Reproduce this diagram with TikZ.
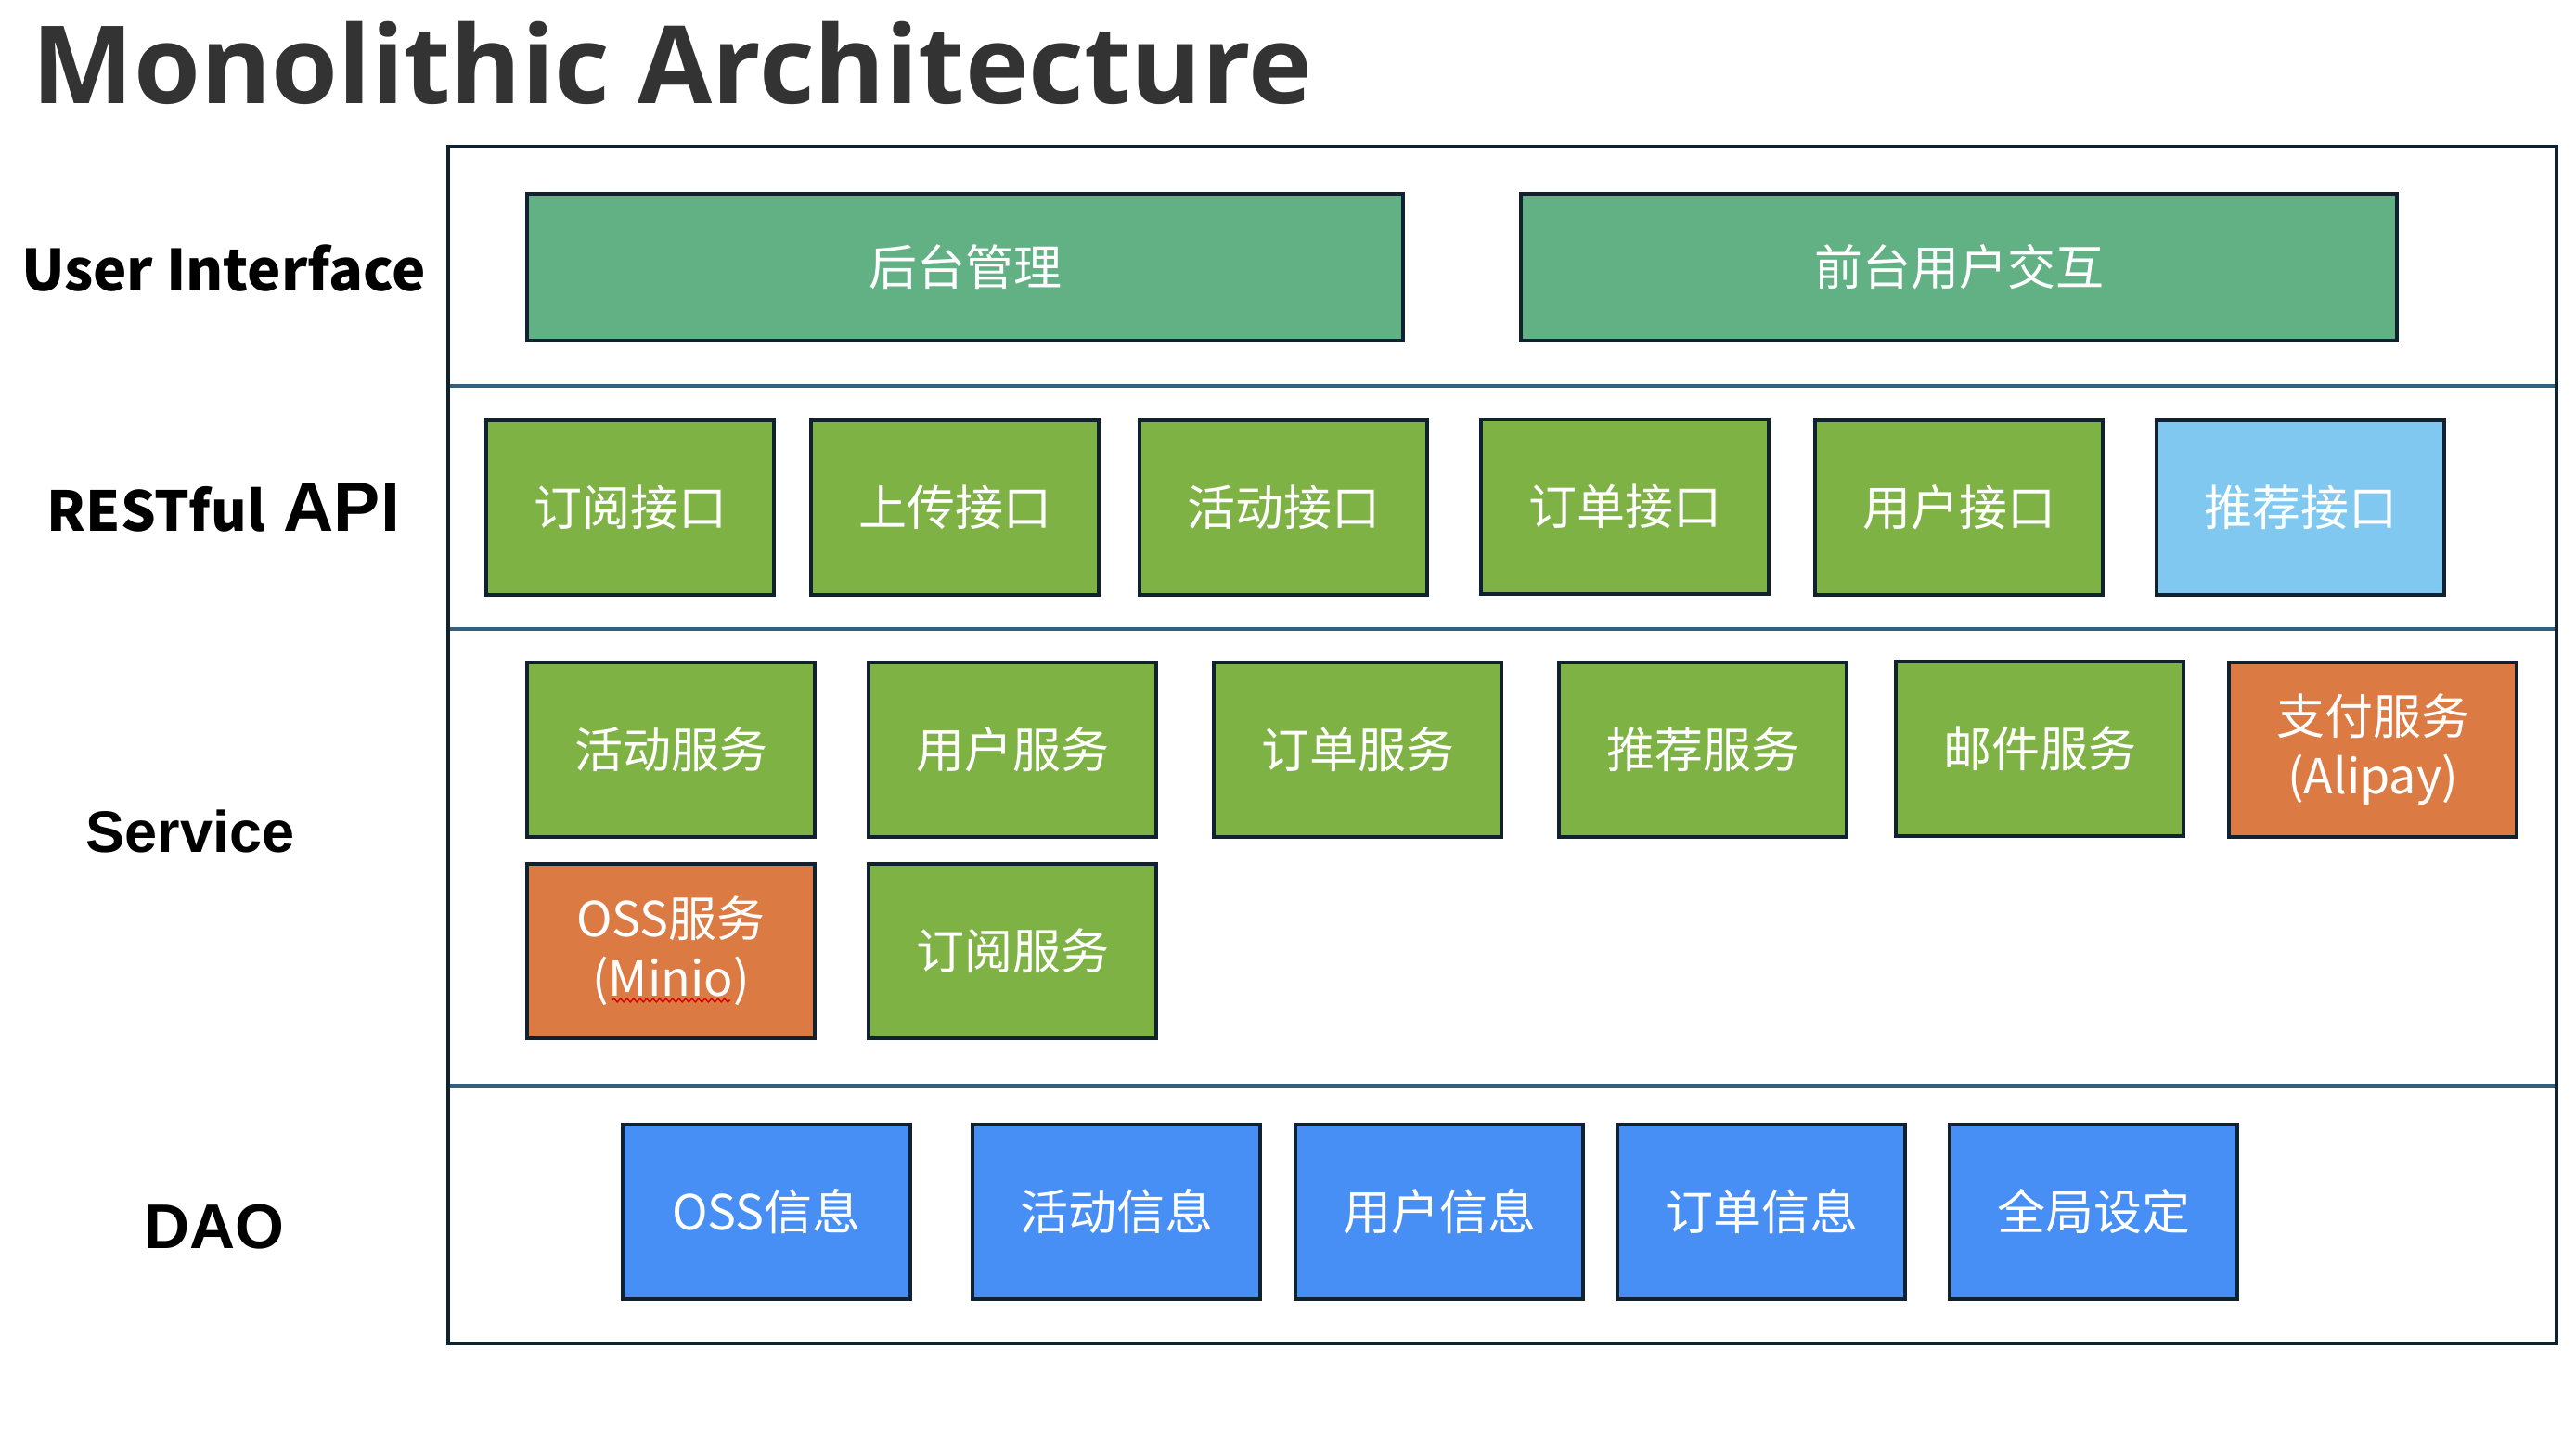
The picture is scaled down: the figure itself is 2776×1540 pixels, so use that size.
\documentclass[tikz,border=0pt]{standalone}
\usepackage{fontspec}
\setmainfont{Liberation Sans}
\newfontfamily\cjk{Noto Sans CJK SC}
\newfontfamily\titlefont{Open Sans}
\usepackage{tikz}
\usetikzlibrary{calc,decorations.pathmorphing}
\definecolor{edge}{HTML}{10222F}
\definecolor{seam}{HTML}{33607F}
\definecolor{uigreen}{HTML}{62B185}
\definecolor{leaf}{HTML}{7FB244}
\definecolor{sky}{HTML}{80C8F0}
\definecolor{rust}{HTML}{DB7A43}
\definecolor{dao}{HTML}{478EF5}

\begin{document}
\begin{tikzpicture}[x=0.25pt, y=-0.25pt, every node/.style={inner sep=0pt},
  box/.style={draw=edge, line width=1pt, minimum width=77.5pt, minimum height=47pt, text=white, align=center, font=\cjk\fontsize{13}{16}\selectfont},
  wide/.style={box, minimum width=236pt, minimum height=39.5pt},
  layer/.style={anchor=base, font=\bfseries\fontsize{15.75}{20}\selectfont}]
  \useasboundingbox (0,0) rectangle (2776,1540);

  \node[anchor=base west, text=black!80, font=\titlefont\bfseries\fontsize{29.05}{34}\selectfont] (title) at (34,112) {Monolithic Architecture};

  \draw[seam, line width=0.9pt] (483,416) -- (2755,416); \draw[seam, line width=0.9pt] (483,678) -- (2755,678); \draw[seam, line width=0.9pt] (483,1170) -- (2755,1170);
  \draw[edge, line width=1pt] (483,158) rectangle (2755,1448);

  \node[layer, font=\cjk\bfseries\fontsize{15.3}{20}\selectfont] (uilabel) at (241,314) {User Interface};
  \node[layer] (apilabel) at (241,573) {{\cjk\fontsize{14.8}{18}\selectfont RESTful}\hspace{5pt}{\fontsize{18.8}{20}\selectfont API}};
  \node[layer] (svclabel) at (205,918) {Service};
  \node[layer, font=\bfseries\fontsize{17}{20}\selectfont] (daolabel) at (231,1345) {DAO};

  \node[wide, fill=uigreen] (admin) at (1040,288) {后台管理};
  \node[wide, fill=uigreen] (front) at (2111,288) {前台用户交互};

  \node[box, fill=leaf] (subapi) at (679,547) {订阅接口};
  \node[box, fill=leaf] (uploadapi) at (1029,547) {上传接口};
  \node[box, fill=leaf] (actapi) at (1383,547) {活动接口};
  \node[box, fill=leaf] (orderapi) at (1751,546) {订单接口};
  \node[box, fill=leaf] (userapi) at (2111,547) {用户接口};
  \node[box, fill=sky] (recapi) at (2479,547) {推荐接口};

  \node[box, fill=leaf] (actsvc) at (723,808) {活动服务};
  \node[box, fill=leaf] (usersvc) at (1091,808) {用户服务};
  \node[box, fill=leaf] (ordersvc) at (1463,808) {订单服务};
  \node[box, fill=leaf] (recsvc) at (1835,808) {推荐服务};
  \node[box, fill=leaf] (mailsvc) at (2198,807) {邮件服务};
  \node[box, fill=rust] (paysvc) at (2557,808) {支付服务\\(Alipay)};
  \node[box, fill=rust] (oss) at (723,1025) {OSS服务\\(Minio)};
  \node[box, fill=leaf] (subsvc) at (1091,1025) {订阅服务};

  \node[box, fill=dao] (ossdao) at (826,1306) {OSS信息};
  \node[box, fill=dao] (actdao) at (1203,1306) {活动信息};
  \node[box, fill=dao] (userdao) at (1551,1306) {用户信息};
  \node[box, fill=dao] (orderdao) at (1898,1306) {订单信息};
  \node[box, fill=dao] (confdao) at (2256,1306) {全局设定};

  \draw[red!85!black, line width=0.35pt, decorate, decoration={zigzag, segment length=1.75pt, amplitude=0.45pt}] ($(oss.center)+(-63,53)$) -- ++(127,0);
\end{tikzpicture}
\end{document}
